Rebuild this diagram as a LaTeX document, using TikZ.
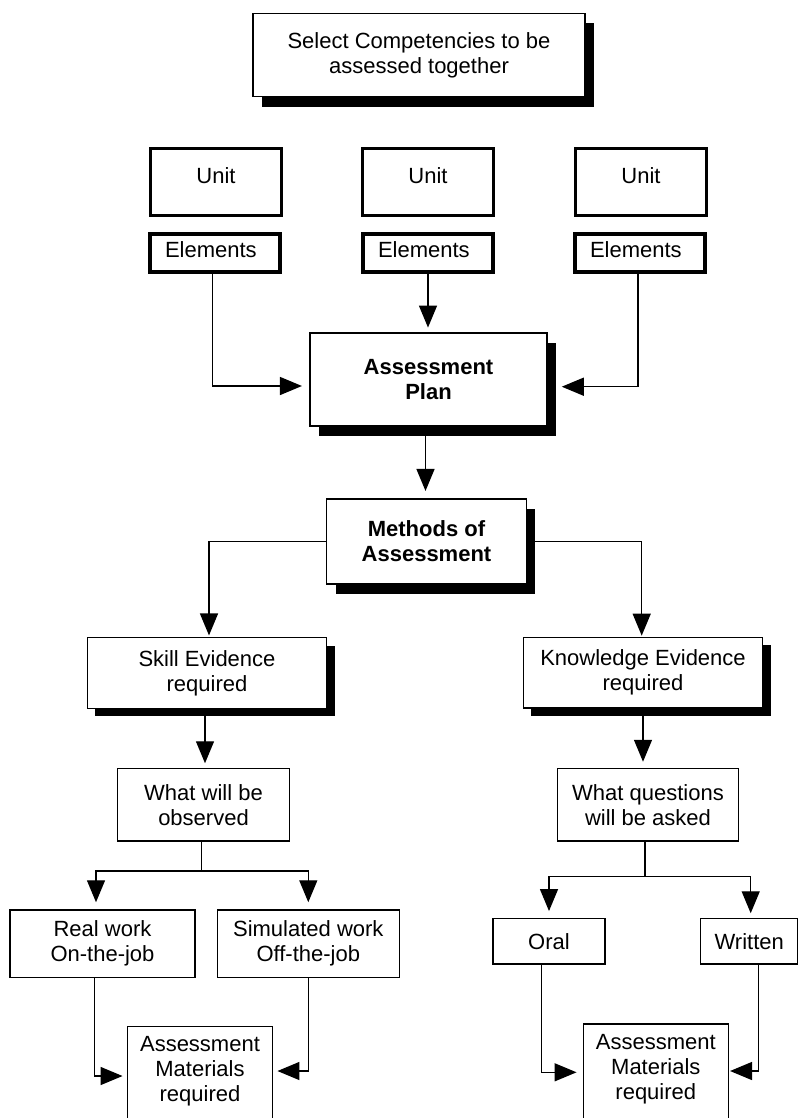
\documentclass[tikz,border=0pt]{standalone}
\usepackage{fontspec}
\setmainfont{Liberation Sans}
\usetikzlibrary{arrows.meta,shadows,calc}
\begin{document}
\begin{tikzpicture}[x=1pt,y=-1pt,
  every node/.style={font=\fontsize{22}{25}\selectfont},
  bold/.style={font=\fontsize{22}{25}\selectfont\bfseries},
  box/.style={draw, line width=1.5pt, fill=white, inner sep=0pt, align=center},
  bigshadow/.style={drop shadow={shadow xshift=9pt, shadow yshift=-10pt, fill=black, opacity=1}},
  smallshadow/.style={drop shadow={shadow xshift=8pt, shadow yshift=-8pt, fill=black, opacity=1}},
  unitbox/.style={draw, line width=3pt, fill=white, inner sep=0pt,
    minimum width=131pt, minimum height=66.7pt, text height=16pt, text depth=12.8pt},
  elbox/.style={draw, line width=4pt, fill=white, inner ysep=0pt, inner xsep=15pt,
    text width=100pt, align=left, minimum height=37.7pt, text height=16pt, text depth=6.2pt},
  link/.style={line width=1.4pt},
  flow/.style={link, -{Triangle[length=22pt,width=18pt]}},
]
\useasboundingbox (0,0) rectangle (799,1118);
\clip (0,0) rectangle (799,1118);

% header
\node[box, bigshadow, minimum width=332pt, minimum height=83.4pt] (top) at (419,55)
  {Select Competencies to be\\assessed together};

% units and their elements
\node[unitbox] (u1) at (216,181.7) {Unit};
\node[unitbox] (u2) at (428,181.7) {Unit};
\node[unitbox] (u3) at (641,181.7) {Unit};
\node[elbox] (e1) at (215,252.85) {Elements};
\node[elbox] (e2) at (428,252.85) {Elements};
\node[elbox] (e3) at (640,252.85) {Elements};

% plan and methods
\node[box, bigshadow, bold, minimum width=237pt, minimum height=93pt] (plan) at (428.5,379.5)
  {Assessment\\Plan};
\node[box, bigshadow, bold, minimum width=199.6pt, minimum height=85pt] (methods) at (426.5,541.5)
  {Methods of\\Assessment};

% evidence branches
\node[box, smallshadow, minimum width=239.4pt, minimum height=70.6pt] (skill) at (207,673)
  {Skill Evidence\\required};
\node[box, smallshadow, minimum width=239.4pt, minimum height=70.6pt] (know) at (643,672.7)
  {Knowledge Evidence\\required};
\node[box, minimum width=171.6pt, minimum height=72.5pt] (observed) at (203.5,804.75)
  {What will be\\observed};
\node[box, minimum width=180.6pt, minimum height=72.5pt] (questions) at (648,804.75)
  {What questions\\will be asked};

\node[box, minimum width=185pt, minimum height=67.5pt] (real) at (102.5,943.75)
  {Real work\\On-the-job};
\node[box, minimum width=182pt, minimum height=67.5pt] (sim) at (308.3,943.75)
  {Simulated work\\Off-the-job};
\node[box, minimum width=112pt, minimum height=45.7pt] (oral) at (549,941.15) {Oral};
\node[box, minimum width=97pt, minimum height=45.7pt] (written) at (749.2,941.15) {Written};

\node[box, anchor=north, minimum width=144.6pt, inner ysep=10pt] (mat1) at (200,1025.7)
  {Assessment\\Materials\\required\rule[-45pt]{0pt}{45pt}};
\node[box, anchor=north, minimum width=145pt, inner ysep=10pt] (mat2) at (655.8,1023.3)
  {Assessment\\Materials\\required\rule[-45pt]{0pt}{45pt}};

% connectors: elements into the plan
\draw[flow, shorten >=7.3pt] ([xshift=-2.5pt]e1.south) |- ([yshift=-6.5pt]plan.west);
\draw[flow, shorten >=4.7pt] (e2.south) -- (e2.south |- plan.north);
\draw[flow, shorten >=14pt] ([xshift=-2pt]e3.south) |- ([yshift=-7.2pt]plan.east);

% plan to methods, methods to evidence
\draw[flow, shorten >=7.3pt] ([xshift=-3pt]plan.south) -- ([xshift=-3pt]plan.south |- methods.north);
\draw[flow, shorten >=1.5pt] (methods.west) -| ([xshift=2pt]skill.north);
\draw[flow, shorten >=1pt] (methods.east) -| ([xshift=-1.3pt]know.north);

\draw[flow, shorten >=4.5pt] ([xshift=-2pt]skill.south) -- ([xshift=-2pt]skill.south |- observed.north);
\draw[flow, shorten >=6pt] (know.south) -- (know.south |- questions.north);

% forks
\coordinate (ofork) at ($(observed.south)+(-1.8,29.3)$);
\coordinate (qfork) at ($(questions.south)+(-3,34.7)$);
\draw[link] ([xshift=-1.8pt]observed.south) -- (ofork);
\draw[flow, shorten >=7pt] (ofork) -| ([xshift=-6.5pt]real.north);
\draw[flow, shorten >=7pt] (ofork) -| (sim.north);
\draw[link] ([xshift=-3pt]questions.south) -- (qfork);
\draw[flow, shorten >=6.5pt] (qfork) -| (oral.north);
\draw[flow, shorten >=4.3pt] (qfork) -| ([xshift=1.5pt]written.north);

% into the materials boxes
\draw[flow, shorten >=4.4pt] ([xshift=-8.2pt]real.south) |- ([yshift=-50.3pt]mat1.north west);
\draw[flow, shorten >=4.4pt] (sim.south) |- ([yshift=-45.3pt]mat1.north east);
\draw[flow, shorten >=6pt] ([xshift=-7.3pt]oral.south) |- ([yshift=-49pt]mat2.north west);
\draw[flow, shorten >=1pt] ([xshift=9pt]written.south) |- ([yshift=-47.7pt]mat2.north east);
\end{tikzpicture}
\end{document}
